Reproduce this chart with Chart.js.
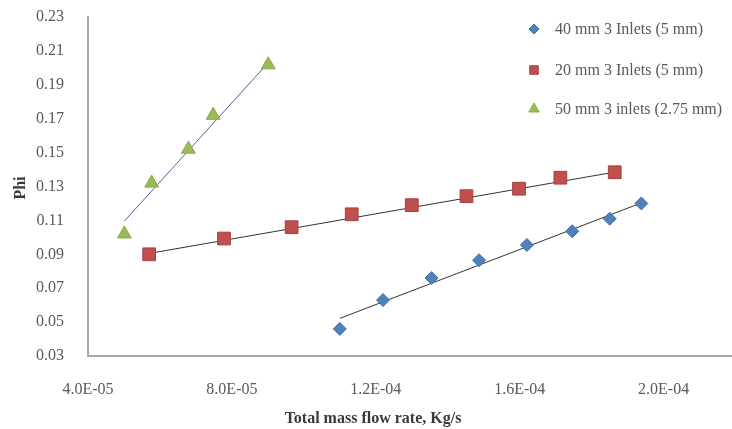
<!DOCTYPE html>
<html>
<head>
<meta charset="utf-8">
<script src="https://cdn.jsdelivr.net/npm/chart.js@4/dist/chart.umd.min.js"></script>
<style>
  body { margin: 0; background: #fff; overflow: hidden; }
  #wrap { width: 732px; height: 429px; }
  canvas { display: block; }
</style>
</head>
<body>
<div id="wrap"><canvas id="myScatter"></canvas></div>
<script>
// values
var blueX = [1.10e-4, 1.22e-4, 1.355e-4, 1.487e-4, 1.62e-4, 1.746e-4, 1.85e-4, 1.938e-4];
var blueY = [0.046, 0.063, 0.076, 0.0865, 0.0955, 0.1036, 0.111, 0.120];
var redX = [5.70e-5, 7.78e-5, 9.66e-5, 1.133e-4, 1.30e-4, 1.452e-4, 1.598e-4, 1.713e-4, 1.864e-4];
var redY = [0.090, 0.0993, 0.106, 0.1136, 0.119, 0.1243, 0.1287, 0.1352, 0.1384];
var greenX = [5.01e-5, 5.77e-5, 6.79e-5, 7.48e-5, 9.01e-5];
var greenY = [0.102, 0.132, 0.152, 0.172, 0.2018];

// trendline end points
var blueTrendX = [1.10e-4, 1.938e-4];
var blueTrendY = [0.0522, 0.1203];
var redTrendX = [5.70e-5, 1.864e-4];
var redTrendY = [0.0905, 0.1385];
var greenTrendX = [5.01e-5, 9.01e-5];
var greenTrendY = [0.1096, 0.203];

var seriesLabels = ["40 mm 3 Inlets (5 mm)", "20 mm 3 Inlets (5 mm)", "50 mm 3 inlets (2.75 mm)"];

var xTicks = [4e-5, 8e-5, 1.2e-4, 1.6e-4, 2.0e-4];
var xTickLabels = ["4.0E-05", "8.0E-05", "1.2E-04", "1.6E-04", "2.0E-04"];
var yTicks = [0.03, 0.05, 0.07, 0.09, 0.11, 0.13, 0.15, 0.17, 0.19, 0.21, 0.23];
var yTickLabels = ["0.03", "0.05", "0.07", "0.09", "0.11", "0.13", "0.15", "0.17", "0.19", "0.21", "0.23"];

var xTitle = "Total mass flow rate, Kg/s";
var yTitle = "Phi";

function pts(xs, ys) {
  return xs.map(function (x, i) { return { x: x, y: ys[i] }; });
}

var serif = "'Liberation Serif', 'Times New Roman', serif";

// legend + axis titles drawn on top
var extras = {
  id: "extras",
  afterDraw: function (chart) {
    var ctx = chart.ctx;
    ctx.save();
    ctx.fillStyle = "#3a3a3a";
    ctx.font = "bold 16px " + serif;
    ctx.textAlign = "center";
    ctx.textBaseline = "middle";
    ctx.fillText(xTitle, 373, 419);
    ctx.save();
    ctx.translate(21, 188);
    ctx.rotate(-Math.PI / 2);
    ctx.fillText(yTitle, 0, 0);
    ctx.restore();

    var rows = [29, 70, 109];
    var sizes = [5, 6, 6];
    ctx.font = "16px " + serif;
    ctx.textAlign = "left";
    chart.data.datasets.forEach(function (ds) {
      if (!ds.label) return;
      var k = seriesLabels.indexOf(ds.label);
      ctx.fillStyle = ds.backgroundColor;
      ctx.strokeStyle = ds.borderColor;
      ctx.lineWidth = 1;
      Chart.helpers.drawPoint(ctx, { pointStyle: ds.pointStyle, radius: sizes[k], borderWidth: 1, rotation: 0 }, 534, rows[k]);
      ctx.fillStyle = "#595959";
      ctx.fillText(ds.label, 555, rows[k] + 1);
    });
    ctx.restore();
  }
};

function noPad(s) {
  s.paddingLeft = 0;
  s.paddingRight = 0;
  s.paddingTop = 0;
  s.paddingBottom = 0;
}

var ctxScatter = document.getElementById("myScatter");

var myScatter = new Chart(ctxScatter, {
  type: "scatter",
  data: {
    datasets: [
      {
        label: seriesLabels[0],
        data: pts(blueX, blueY),
        pointStyle: "rectRot",
        pointRadius: 6.5,
        backgroundColor: "#4F81BD",
        borderColor: "#3f6ea6",
        borderWidth: 1
      },
      {
        label: seriesLabels[1],
        data: pts(redX, redY),
        pointStyle: "rect",
        pointRadius: 9,
        backgroundColor: "#C0504D",
        borderColor: "#a43f3c",
        borderWidth: 1
      },
      {
        label: seriesLabels[2],
        data: pts(greenX, greenY),
        pointStyle: "triangle",
        pointRadius: 8,
        backgroundColor: "#9BBB59",
        borderColor: "#88a84a",
        borderWidth: 1
      },
      {
        label: "",
        data: pts(blueTrendX, blueTrendY),
        showLine: true,
        borderColor: "#333333",
        borderWidth: 1,
        pointRadius: 0
      },
      {
        label: "",
        data: pts(redTrendX, redTrendY),
        showLine: true,
        borderColor: "#333333",
        borderWidth: 1,
        pointRadius: 0
      },
      {
        label: "",
        data: pts(greenTrendX, greenTrendY),
        showLine: true,
        borderColor: "#56609a",
        borderWidth: 1,
        pointRadius: 0
      }
    ]
  },
  options: {
    responsive: true,
    maintainAspectRatio: false,
    animation: false,
    layout: { autoPadding: false, padding: { top: 17, left: 0, right: 0, bottom: 0 } },
    plugins: {
      legend: { display: false },
      tooltip: { enabled: false }
    },
    scales: {
      x: {
        type: "linear",
        min: 4e-5,
        max: 2.19e-4,
        afterBuildTicks: function (s) { s.ticks = xTicks.map(function (v) { return { value: v }; }); },
        afterFit: function (s) { s.height = 73; noPad(s); },
        grid: { display: false },
        border: { display: true, color: "#aaaaaa", width: 2 },
        ticks: {
          padding: 16,
          maxRotation: 0,
          color: "#595959",
          font: { family: serif, size: 16 },
          callback: function (v, i) { return xTickLabels[i]; }
        }
      },
      y: {
        type: "linear",
        min: 0.03,
        max: 0.23,
        afterBuildTicks: function (s) { s.ticks = yTicks.map(function (v) { return { value: v }; }); },
        afterFit: function (s) { s.width = 88; noPad(s); },
        grid: { display: false },
        border: { display: true, color: "#aaaaaa", width: 2 },
        ticks: {
          padding: 16,
          color: "#595959",
          font: { family: serif, size: 16 },
          callback: function (v, i) { return yTickLabels[i]; }
        }
      }
    }
  },
  plugins: [extras]
});
</script>
</body>
</html>
